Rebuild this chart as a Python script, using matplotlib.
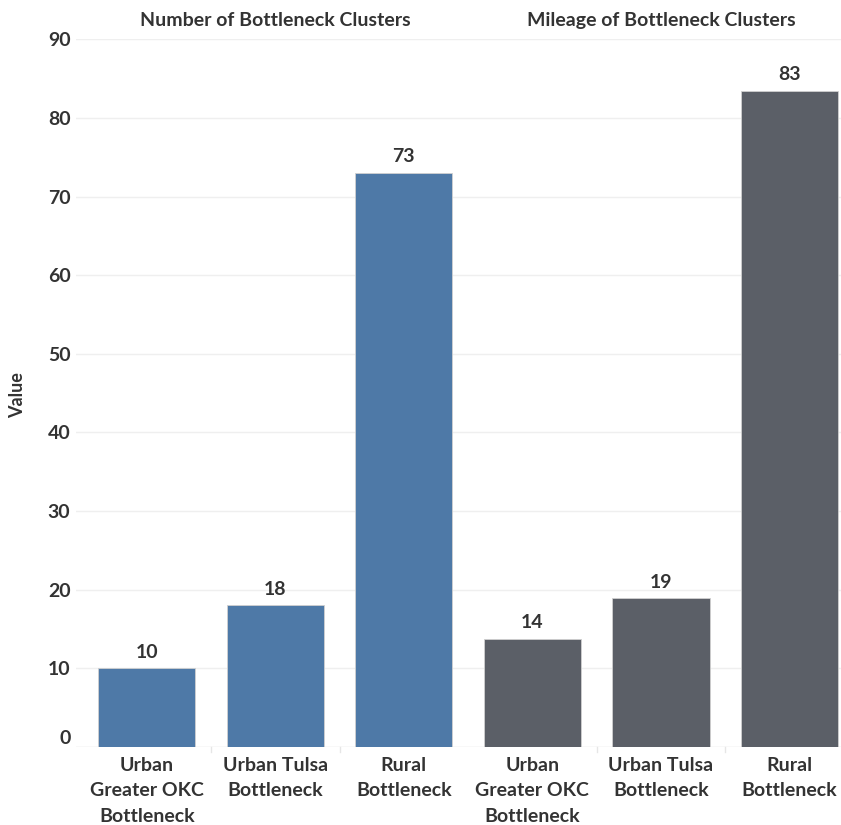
import matplotlib
matplotlib.use("Agg")
import matplotlib.pyplot as plt
import numpy as np

# data
categories = ["Urban\nGreater OKC\nBottleneck", "Urban Tulsa\nBottleneck", "Rural\nBottleneck"]
panel_titles = ["Number of Bottleneck Clusters", "Mileage of Bottleneck Clusters"]
cluster_counts = [10, 18, 73]
cluster_miles = [13.7, 18.9, 83.4]
y_ticks = [0, 10, 20, 30, 40, 50, 60, 70, 80, 90]

colors = ["#4e79a7", "#5b5f67"]
text_color = "#333333"
font = ["Lato", "DejaVu Sans"]
fs = 14

plt.rcParams['font.family'] = font

fig = plt.figure(figsize=(8.41, 8.25), dpi=100)
ax = fig.add_axes([76 / 841, 78 / 825, 1 - 76 / 841, (747 - 39.3) / 825])

values = cluster_counts + cluster_miles
x = np.arange(len(values))
bar_colors = [colors[0]] * 3 + [colors[1]] * 3
bars = ax.bar(x, values, width=0.755, color=bar_colors, edgecolor="#d0d0d0", linewidth=0.6, zorder=3)

for b, v in zip(bars, values):
    ax.text(b.get_x() + b.get_width() / 2, v + 1.0, f"{v:.0f}", ha="center", va="bottom",
            fontsize=fs, fontweight="bold", color=text_color)

ax.set_xlim(-0.55, 5.40)
ax.set_ylim(0, 90)
ax.set_yticks(y_ticks)
ax.set_yticklabels([str(t) for t in y_ticks], fontsize=fs, fontweight="bold", color=text_color)
ax.get_yticklabels()[0].set_va("bottom")
ax.tick_params(axis="y", length=0, pad=4)
ax.set_xticks(x)
ax.set_xticklabels(categories * 2, fontsize=fs, fontweight="bold", color=text_color, linespacing=1.62)
ax.tick_params(axis="x", length=0, pad=7)

ax.grid(axis="y", color="#efefef", linewidth=1, zorder=0)
for s in ax.spines.values():
    s.set_visible(False)
ax.axhline(0, color="#eeeeee", linewidth=1, zorder=1)

# faint separators below baseline
for sx in [0.5, 1.5, 3.5, 4.5]:
    ax.plot([sx, sx], [0, -0.6], color="#e6e6e6", linewidth=1, clip_on=False)

for i, t in enumerate(panel_titles):
    ax.text(1 + 3 * i, 91.3, t, ha="center", va="bottom", fontsize=fs, fontweight="bold",
            color=text_color)

fig.text(18 / 841, 1 - 395 / 825, "Value", rotation=90, ha="center", va="center",
         fontsize=13, fontweight="bold", color=text_color)

fig.savefig("out.png", dpi=100)
